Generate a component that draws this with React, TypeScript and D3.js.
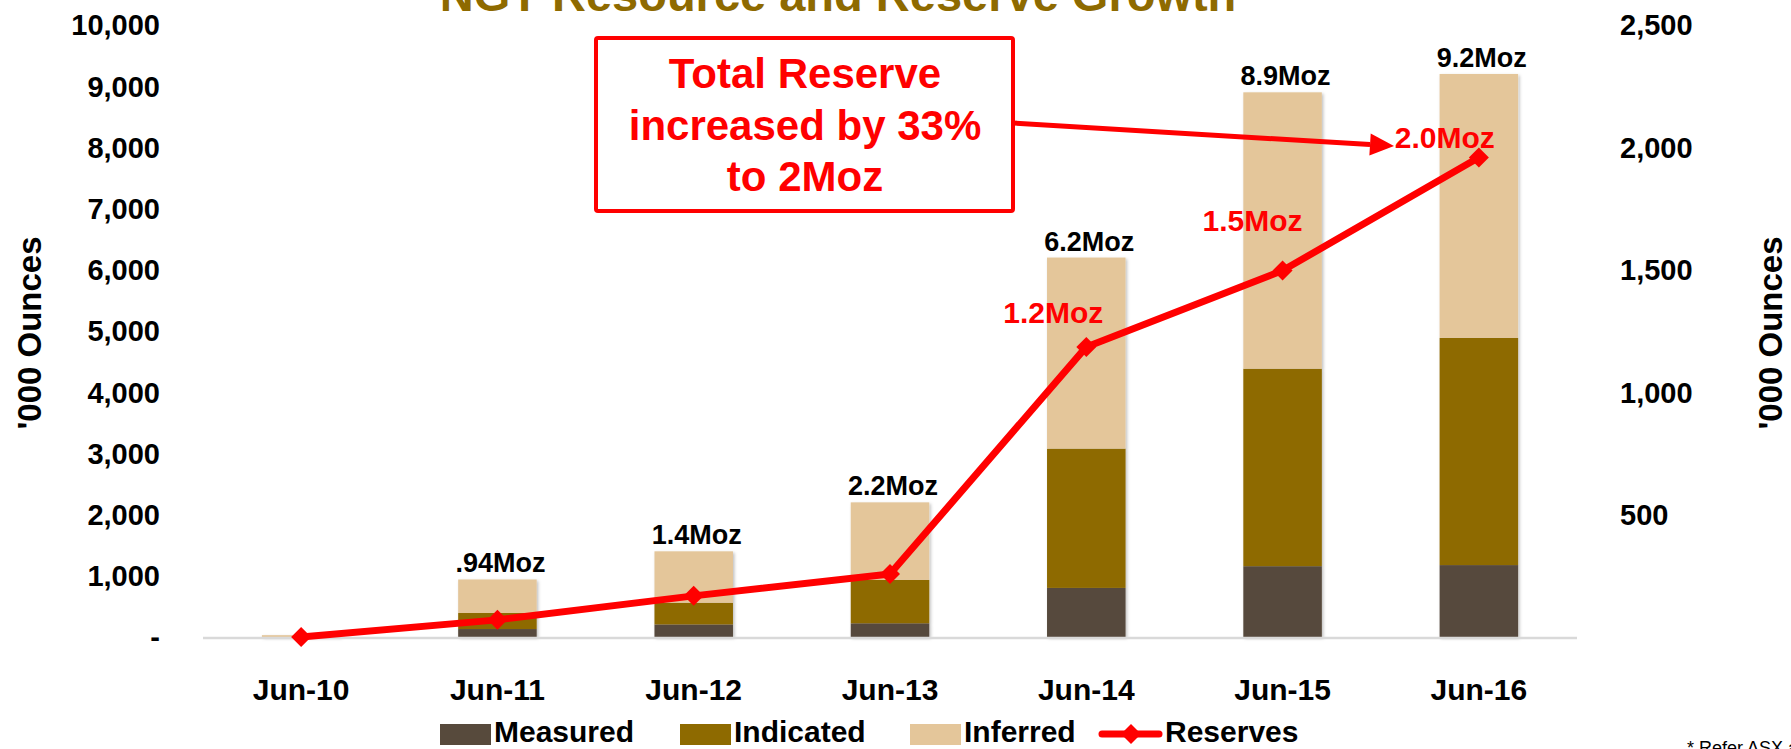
import React from "react";
import * as d3 from "d3";

const categories = ["Jun-10", "Jun-11", "Jun-12", "Jun-13", "Jun-14", "Jun-15", "Jun-16"];
const measured = [0, 130, 205, 224, 802, 1157, 1175];
const indicated = [0, 262, 355, 709, 2276, 3227, 3713];
const inferred = [30, 548, 840, 1267, 3122, 4516, 4312];
const reserves = [0, 70, 168, 257, 1185, 1497, 1959];
const totalLabels = ["", ".94Moz", "1.4Moz", "2.2Moz", "6.2Moz", "8.9Moz", "9.2Moz"];
const reserveLabels = ["", "", "", "", "1.2Moz", "1.5Moz", "2.0Moz"];
const leftTicks = [0, 1000, 2000, 3000, 4000, 5000, 6000, 7000, 8000, 9000, 10000];
const rightTicks = [500, 1000, 1500, 2000, 2500];
const seriesNames = ["Measured", "Indicated", "Inferred"];
const titleText = "NGT Resource and Reserve Growth";
const axisTitle = "'000 Ounces";
const calloutLines = ["Total Reserve", "increased by 33%", "to 2Moz"];
const footnote = "* Refer ASX announcement";

const W = 1791;
const H = 749;
const FONT = "'Liberation Sans', Arial, Helvetica, sans-serif";
const COLORS = ["#574a3c", "#8e6a00", "#e4c69a"];
const RED = "#ff0000";

export default function App() {
  const x = d3
    .scaleBand<string>()
    .domain(categories)
    .range([203, 1577])
    .paddingInner(0.6)
    .paddingOuter(0.3);
  const yL = d3.scaleLinear().domain([0, 10000]).range([637, 25]);
  const yR = d3.scaleLinear().domain([0, 2500]).range([637, 25]);
  const fmt = d3.format(",");

  const rows = categories.map((c, i) => ({ c, vals: [measured[i], indicated[i], inferred[i]] }));
  const stack = d3
    .stack<any>()
    .keys([0, 1, 2] as any)
    .value((d: any, k: any) => d.vals[k]);
  const stacked = stack(rows as any);

  const line = d3
    .line<number>()
    .x((_, i) => (x(categories[i]) as number) + x.bandwidth() / 2)
    .y((d) => yR(d));

  const diamond = (cx: number, cy: number, r: number) =>
    `M${cx},${cy - r}L${cx + r},${cy}L${cx},${cy + r}L${cx - r},${cy}Z`;

  const resLabelOffsets: [number, number][] = [
    [0, 0], [0, 0], [0, 0], [0, 0], [-33, -24], [-30, -40], [-34, -9],
  ];

  const ax1 = 1013, ay1 = 123, ax2 = 1394, ay2 = 146;
  const ang = Math.atan2(ay2 - ay1, ax2 - ax1);
  const headL = 24, headW = 11;
  const bx = ax2 - headL * Math.cos(ang), by = ay2 - headL * Math.sin(ang);
  const px = -Math.sin(ang), py = Math.cos(ang);
  const head = `M${ax2},${ay2}L${bx + px * headW},${by + py * headW}L${bx - px * headW},${by - py * headW}Z`;

  const legendItems = [
    { type: "rect", color: COLORS[0], x: 440, label: seriesNames[0] },
    { type: "rect", color: COLORS[1], x: 680, label: seriesNames[1] },
    { type: "rect", color: COLORS[2], x: 910, label: seriesNames[2] },
    { type: "line", color: RED, x: 1102, label: "Reserves" },
  ];

  return (
    <svg
      width={W}
      height={H}
      style={{ position: "fixed", left: 0, top: 0, background: "#fff" }}
      fontFamily={FONT}
      fontWeight="bold"
    >
      <defs>
        <filter id="sh" x="-20%" y="-20%" width="140%" height="140%">
          <feDropShadow dx="1.5" dy="1.5" stdDeviation="1.5" floodColor="#000" floodOpacity="0.25" />
        </filter>
      </defs>
      <rect x={0} y={0} width={W} height={H} fill="#fff" />

      <text x={838} y={11} textAnchor="middle" fontSize={47} fill="#8e6a00">
        {titleText}
      </text>

      {leftTicks.map((t) => (
        <text key={t} x={160} y={yL(t)} dy="0.36em" textAnchor="end" fontSize={29} fill="#000">
          {t === 0 ? "-" : fmt(t)}
        </text>
      ))}
      {rightTicks.map((t) => (
        <text key={t} x={1620} y={yR(t)} dy="0.36em" textAnchor="start" fontSize={29} fill="#000">
          {fmt(t)}
        </text>
      ))}
      <text transform="translate(41,333) rotate(-90)" textAnchor="middle" fontSize={33} fill="#000">
        {axisTitle}
      </text>
      <text transform="translate(1782,333) rotate(-90)" textAnchor="middle" fontSize={33} fill="#000">
        {axisTitle}
      </text>

      <g filter="url(#sh)">
        {stacked.map((s, si) =>
          s.map((d, i) => {
            const h = yL(d[0]) - yL(d[1]);
            if (h <= 0) return null;
            return (
              <rect
                key={`${si}-${i}`}
                x={x(categories[i])}
                y={yL(d[1])}
                width={x.bandwidth()}
                height={h}
                fill={COLORS[si]}
              />
            );
          })
        )}
      </g>

      <line x1={203} x2={1577} y1={yL(0) + 1} y2={yL(0) + 1} stroke="#d9d9d9" strokeWidth={2.5} />

      {categories.map((c, i) => {
        const tot = measured[i] + indicated[i] + inferred[i];
        return totalLabels[i] ? (
          <text
            key={c}
            x={(x(c) as number) + x.bandwidth() / 2 + 3}
            y={yL(tot) - 7}
            textAnchor="middle"
            fontSize={27}
            fill="#000"
          >
            {totalLabels[i]}
          </text>
        ) : null;
      })}

      {categories.map((c) => (
        <text
          key={c}
          x={(x(c) as number) + x.bandwidth() / 2}
          y={700}
          textAnchor="middle"
          fontSize={30}
          fill="#000"
        >
          {c}
        </text>
      ))}

      <path d={line(reserves) as string} fill="none" stroke={RED} strokeWidth={7} strokeLinejoin="round" />
      {reserves.map((v, i) => (
        <path
          key={i}
          d={diamond((x(categories[i]) as number) + x.bandwidth() / 2, yR(v), 10)}
          fill={RED}
        />
      ))}
      {reserves.map((v, i) =>
        reserveLabels[i] ? (
          <text
            key={`rl${i}`}
            x={(x(categories[i]) as number) + x.bandwidth() / 2 + resLabelOffsets[i][0]}
            y={yR(v) + resLabelOffsets[i][1]}
            textAnchor="middle"
            fontSize={30}
            fill={RED}
          >
            {reserveLabels[i]}
          </text>
        ) : null
      )}

      <rect x={596} y={38} width={417} height={173} fill="#fff" stroke={RED} strokeWidth={4} rx={2} />
      {calloutLines.map((t, i) => (
        <text key={t} x={805} y={88 + i * 51.5} textAnchor="middle" fontSize={42} fill={RED}>
          {t}
        </text>
      ))}
      <line x1={ax1} y1={ay1} x2={bx} y2={by} stroke={RED} strokeWidth={5} />
      <path d={head} fill={RED} />

      {legendItems.map((it) => (
        <g key={it.label}>
          {it.type === "rect" ? (
            <rect x={it.x} y={724} width={51} height={21} fill={it.color} />
          ) : (
            <g>
              <line x1={it.x} x2={it.x + 57} y1={734} y2={734} stroke={RED} strokeWidth={7} strokeLinecap="round" />
              <path d={diamond(it.x + 29, 734, 10)} fill={RED} />
            </g>
          )}
          <text x={it.type === "rect" ? it.x + 54 : it.x + 63} y={742} fontSize={30} fill="#000">
            {it.label}
          </text>
        </g>
      ))}

      <text x={1687} y={754} fontSize={18} fontWeight="normal" fill="#000">
        {footnote}
      </text>
    </svg>
  );
}
